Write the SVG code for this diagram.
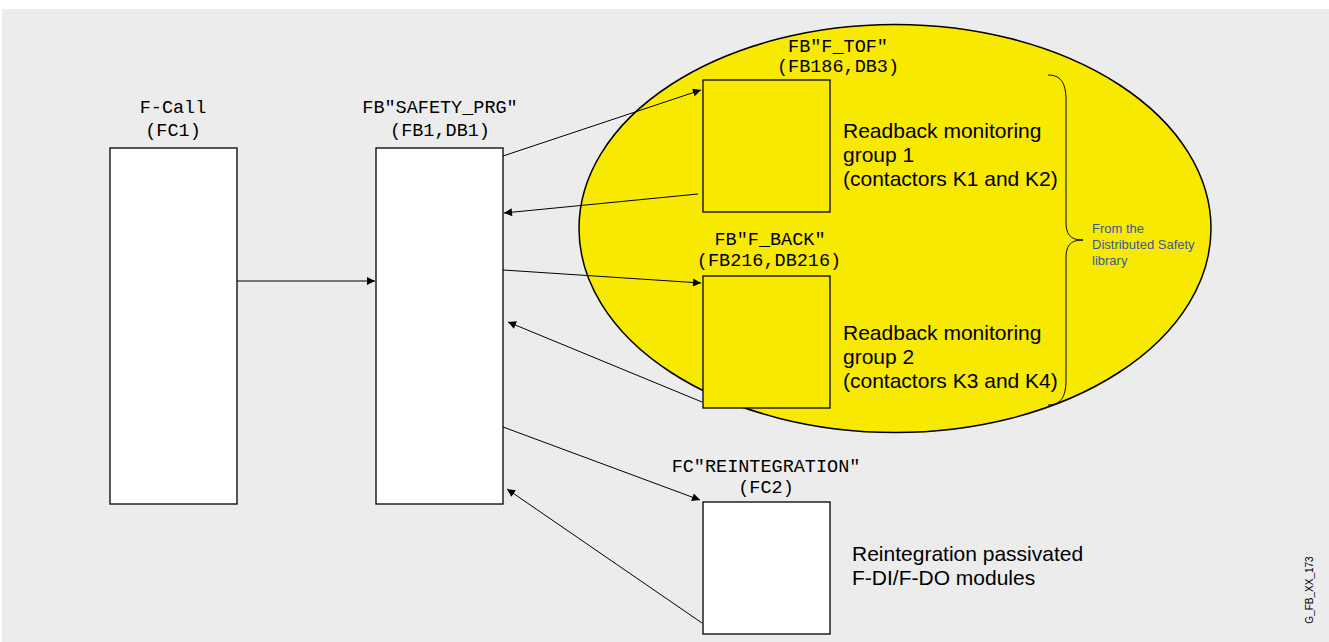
<svg xmlns="http://www.w3.org/2000/svg" width="1329" height="642" viewBox="0 0 1329 642">
<style>
.box{stroke:#000;stroke-width:1.3}
.mono{font-family:"Liberation Mono","Courier New",monospace;font-size:18.5px;fill:#000;text-anchor:middle}
.sans{font-family:"Liberation Sans",Arial,sans-serif;font-size:21px;fill:#000}
.note{font-family:"Liberation Sans",Arial,sans-serif;font-size:13px;fill:#3b5a9a}
.con{stroke:#000;stroke-width:1;fill:none;marker-end:url(#ah)}
</style>
<defs>
<marker id="ah" viewBox="0 0 10 10" refX="10" refY="5" markerWidth="12" markerHeight="8" markerUnits="userSpaceOnUse" orient="auto">
<path d="M0,0 L10,5 L0,10 z" fill="#000"/>
</marker>
</defs>
<rect x="0" y="0" width="1329" height="642" fill="#fff"/>
<rect x="2" y="9" width="1327" height="633" fill="#ececec"/>
<ellipse id="ellipse" cx="895" cy="228.5" rx="316" ry="204" fill="#f8e900" stroke="#000" stroke-width="1.5"/>
<g id="fcall">
<rect class="box" x="110" y="148" width="127" height="356" fill="#fff"/>
<text class="mono" x="173" y="113">F-Call</text>
<text class="mono" x="173" y="136">(FC1)</text>
</g>
<g id="safety">
<rect class="box" x="376" y="148" width="127" height="356" fill="#fff"/>
<text class="mono" x="440" y="113">FB"SAFETY_PRG"</text>
<text class="mono" x="440" y="136">(FB1,DB1)</text>
</g>
<g id="ftof">
<rect class="box" x="703" y="80" width="127" height="132" fill="#f8e900"/>
<text class="mono" x="838" y="52">FB"F_TOF"</text>
<text class="mono" x="838" y="72">(FB186,DB3)</text>
<text class="sans" x="843" y="138">Readback monitoring</text>
<text class="sans" x="843" y="162">group 1</text>
<text class="sans" x="843" y="186">(contactors K1 and K2)</text>
</g>
<g id="fback">
<rect class="box" x="703" y="276" width="127" height="132" fill="#f8e900"/>
<text class="mono" x="770" y="245">FB"F_BACK"</text>
<text class="mono" x="769" y="266">(FB216,DB216)</text>
<text class="sans" x="843" y="340">Readback monitoring</text>
<text class="sans" x="843" y="364">group 2</text>
<text class="sans" x="843" y="388">(contactors K3 and K4)</text>
</g>
<g id="reint">
<rect class="box" x="703" y="502" width="127" height="132" fill="#fff"/>
<text class="mono" x="766" y="472">FC"REINTEGRATION"</text>
<text class="mono" x="766" y="493">(FC2)</text>
<text class="sans" x="852" y="561">Reintegration passivated</text>
<text class="sans" x="852" y="585">F-DI/F-DO modules</text>
</g>
<g id="library">
<path d="M1048,75 C1060,75 1066,82 1066,100 L1066,222 C1066,236 1072,240 1083,240 C1072,240 1066,244 1066,258 L1066,380 C1066,398 1060,405 1048,405" fill="none" stroke="#000" stroke-width="1"/>
<text class="note" x="1092" y="233">From the</text>
<text class="note" x="1092" y="249">Distributed Safety</text>
<text class="note" x="1092" y="265">library</text>
</g>
<g id="connectors">
<line class="con" x1="237" y1="281" x2="375" y2="281"/>
<line class="con" x1="503" y1="156" x2="701" y2="90"/>
<line class="con" x1="698" y1="194" x2="504" y2="213"/>
<line class="con" x1="503" y1="270" x2="701" y2="283"/>
<line class="con" x1="702" y1="402" x2="508" y2="322"/>
<line class="con" x1="503" y1="427" x2="700" y2="500"/>
<line class="con" x1="702" y1="623" x2="507" y2="489"/>
</g>
<text x="1313" y="590" transform="rotate(-90 1313 590)" font-family="Liberation Sans, Arial, sans-serif" font-size="10" fill="#000" text-anchor="middle">G_FB_XX_173</text>
</svg>
